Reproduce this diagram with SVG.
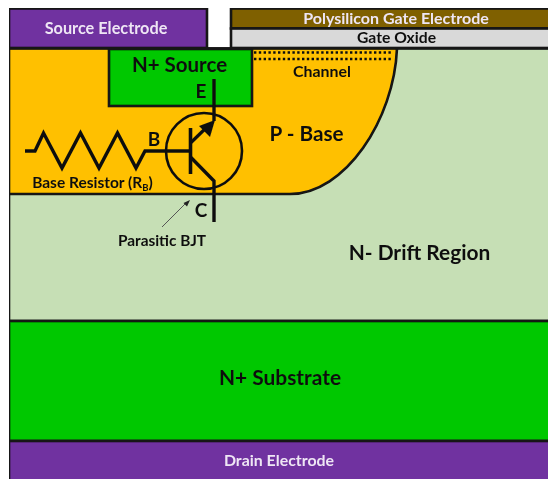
<svg xmlns="http://www.w3.org/2000/svg" width="548" height="479" viewBox="0 0 548 479">
<defs><filter id="soft" x="0" y="0" width="100%" height="100%"><feGaussianBlur stdDeviation="0.45"/></filter></defs>
<style>
.o{stroke:#141414;stroke-width:2.6}
.t{font-family:Lato,"Liberation Sans",sans-serif;font-weight:700;text-anchor:middle;fill:#111}
.w{fill:#eee6f4}
.l{fill:none;stroke:#111;stroke-linejoin:miter}
</style>
<rect width="548" height="479" fill="#fff"/>
<g filter="url(#soft)">
<g id="drift-region"><path class="o" d="M9 48.500H552V321H9Z" fill="#c6dfb5"/><text class="t" x="419.500" y="260" font-size="20.900">N- Drift Region</text></g>
<g id="p-base"><path class="o" d="M9 48.500H397C394 120 345 194 290 194H9Z" fill="#ffc000"/><text class="t" x="306.500" y="141" font-size="20.700">P - Base</text></g>
<g id="source-electrode"><rect class="o" x="9" y="8.500" width="198" height="39.500" fill="#7030a0"/><text class="t w" x="106" y="34" font-size="16.300">Source Electrode</text></g>
<g id="gate-electrode"><rect class="o" x="231" y="8.500" width="322" height="20" fill="#7f6000"/><text class="t w" x="396" y="24" font-size="16">Polysilicon Gate Electrode</text></g>
<g id="gate-oxide"><rect class="o" x="231" y="28.500" width="322" height="19.500" fill="#d9d9d9"/><text class="t" x="396.500" y="43" font-size="15.700">Gate Oxide</text></g>
<g id="n-source"><rect class="o" x="109" y="49" width="143" height="57" fill="#00c800"/><text class="t" x="179.500" y="72" font-size="20.500">N+ Source</text></g>
<g id="channel"><path d="M254 52.500H393M254 59H393" fill="none" stroke="#111" stroke-width="2.400" stroke-dasharray="2.400 2.400"/><text class="t" x="322" y="77" font-size="15.900">Channel</text></g>
<g id="substrate"><rect class="o" x="9" y="321" width="543" height="120" fill="#00c800"/><text class="t" x="280" y="385" font-size="20.900">N+ Substrate</text></g>
<g id="drain-electrode"><rect class="o" x="9" y="441" width="543" height="42" fill="#7030a0"/><text class="t w" x="279" y="466" font-size="15.900">Drain Electrode</text></g>
<g id="connectors">
<path class="l" stroke-width="3.400" d="M25 151H35L43.500 133 62 168 80.500 133 99 168 117.500 133 136 168 145 151H190"/>
<circle class="l" stroke-width="2.600" cx="204" cy="151" r="38"/>
<path class="l" stroke-width="3.600" d="M190.500 128V174"/>
<path class="l" stroke-width="3.200" d="M190.500 143L208 126"/>
<path d="M215 120L199 126 210 137Z" fill="#111"/>
<path class="l" stroke-width="3.400" d="M214 79V121"/>
<path class="l" stroke-width="3.400" d="M190.500 157L214 181V222"/>
<path d="M162 227L186 203" fill="none" stroke="#555" stroke-width="1"/>
<path d="M190 200L183.500 203 187 206.500Z" fill="#222"/>
</g>
<g id="labels">
<text class="t" x="201" y="98" font-size="19">E</text>
<text class="t" x="154" y="146" font-size="19">B</text>
<text class="t" x="201" y="217" font-size="19">C</text>
<text class="t" x="92.500" y="188" font-size="15.500">Base Resistor (R<tspan font-size="9.500" dy="3">B</tspan><tspan dy="-3">)</tspan></text>
<text class="t" x="162" y="246" font-size="15.400">Parasitic BJT</text>
</g>
</g>
</svg>
